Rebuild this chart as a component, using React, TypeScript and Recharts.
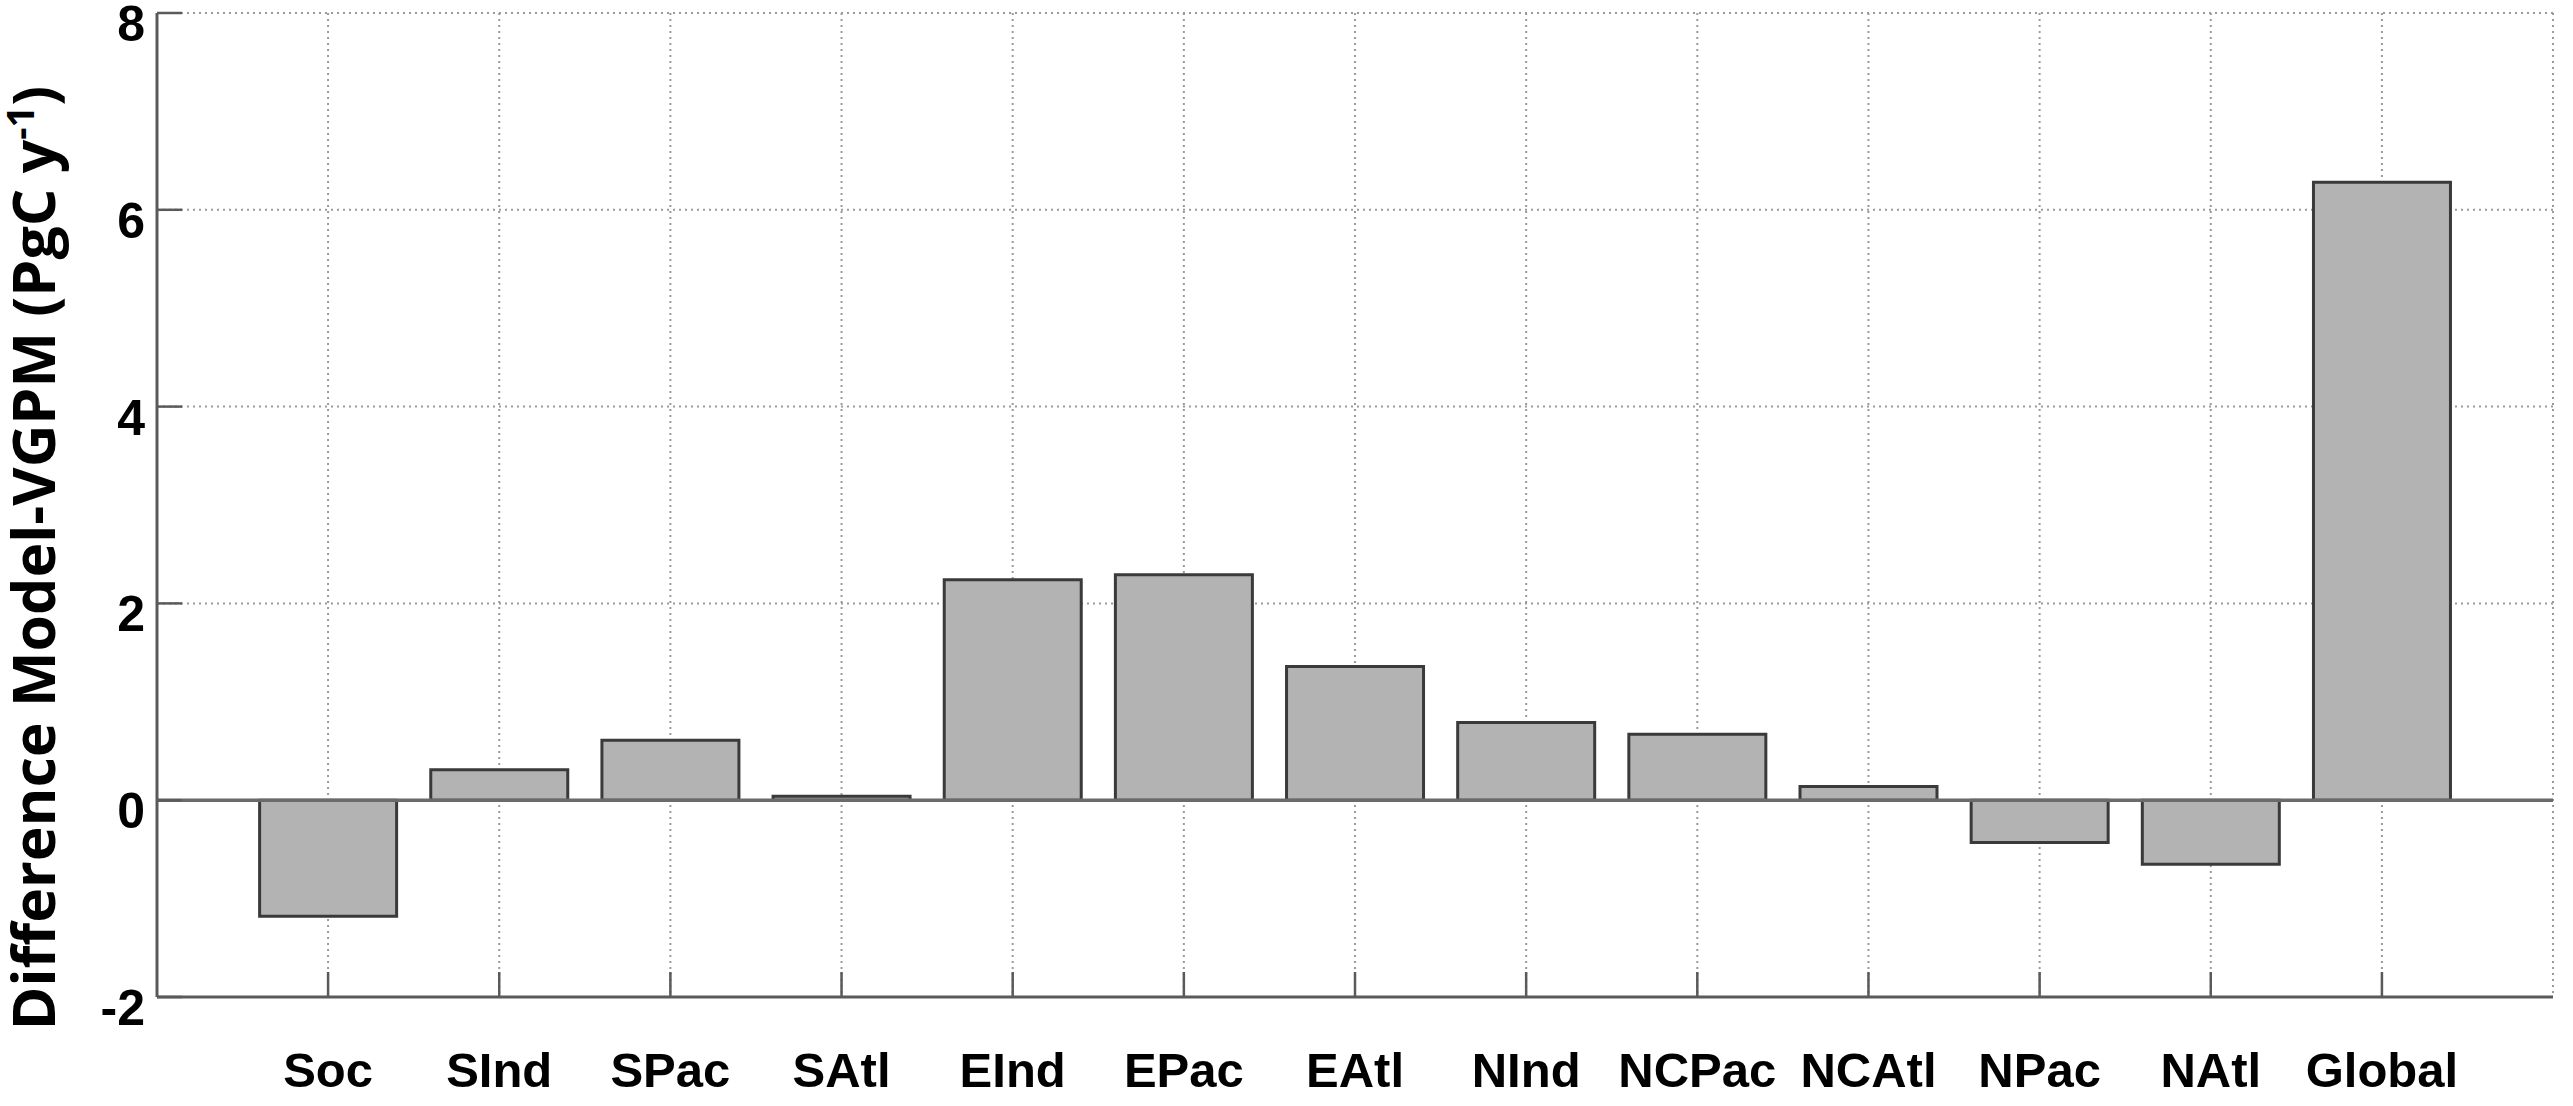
import React from 'react'
import { BarChart, Bar, XAxis, YAxis, CartesianGrid, ReferenceLine } from 'recharts'

// regions and model-minus-VGPM differences (PgC/yr)
const regions = ['Soc', 'SInd', 'SPac', 'SAtl', 'EInd', 'EPac', 'EAtl', 'NInd', 'NCPac', 'NCAtl', 'NPac', 'NAtl', 'Global']
const diffs = [-1.18, 0.31, 0.61, 0.04, 2.24, 2.29, 1.36, 0.79, 0.67, 0.14, -0.43, -0.65, 6.28]
const yTicks = [-2, 0, 2, 4, 6, 8]

const data = regions.map((region, i) => ({ region, diff: diffs[i] }))

const AXIS = '#5a5a5a'
const TICK_LEN = 25
const LABEL_FONT = '"Liberation Sans", Arial, sans-serif'

const BottomTick = (props: any) => {
  const { x, y, payload } = props
  return (
    <g>
      <line x1={x} y1={y} x2={x} y2={y - TICK_LEN} stroke={AXIS} strokeWidth={2.5} />
      <text x={x} y={y + 90} textAnchor="middle" fontFamily={LABEL_FONT} fontWeight="bold" fontSize={49} fill="#000">
        {payload.value}
      </text>
    </g>
  )
}

const TopTick = (props: any) => {
  const { x, y } = props
  return <line x1={x} y1={y} x2={x} y2={y + TICK_LEN} stroke={AXIS} strokeWidth={2.5} />
}

const LeftTick = (props: any) => {
  const { x, y, payload } = props
  return (
    <g>
      <line x1={x + 12} y1={y} x2={x + 12 + TICK_LEN} y2={y} stroke={AXIS} strokeWidth={2.5} />
      <text x={x} y={y + 28} textAnchor="end" fontFamily={LABEL_FONT} fontWeight="bold" fontSize={50} fill="#000">
        {payload.value}
      </text>
    </g>
  )
}

const RightTick = (props: any) => {
  const { x, y } = props
  return <line x1={x} y1={y} x2={x - TICK_LEN} y2={y} stroke={AXIS} strokeWidth={2.5} />
}

export default function App() {
  return (
    <div style={{ position: 'absolute', left: 0, top: 0, width: 2573, height: 1106, background: '#fff' }}>
      <BarChart
        width={2573}
        height={1106}
        data={data}
        margin={{ top: 13, right: 20, left: 0, bottom: 0 }}
        barCategoryGap="10%"
      >
        <CartesianGrid stroke="#9a9a9a" strokeWidth={2} strokeDasharray="2 4" />
        <XAxis
          dataKey="region"
          interval={0}
          height={109}
          padding={{ left: 85.5, right: 85.5 }}
          tickSize={0}
          tickMargin={0}
          tick={(p: any) => <BottomTick {...p} />}
          axisLine={{ stroke: AXIS, strokeWidth: 3 }}
        />
        <XAxis
          xAxisId="top"
          orientation="top"
          dataKey="region"
          interval={0}
          height={0}
          padding={{ left: 85.5, right: 85.5 }}
          tickSize={0}
          tickMargin={0}
          tick={(p: any) => <TopTick {...p} />}
          axisLine={{ stroke: AXIS, strokeWidth: 3 }}
        />
        <YAxis
          domain={[-2, 8]}
          ticks={yTicks}
          width={157}
          tickSize={0}
          tickMargin={12}
          tick={(p: any) => <LeftTick {...p} />}
          axisLine={{ stroke: AXIS, strokeWidth: 3 }}
        />
        <YAxis
          yAxisId="r"
          orientation="right"
          domain={[-2, 8]}
          ticks={yTicks}
          width={0}
          tickSize={0}
          tickMargin={0}
          tick={(p: any) => <RightTick {...p} />}
          axisLine={{ stroke: AXIS, strokeWidth: 3 }}
        />
        <Bar dataKey="diff" fill="#b3b3b3" stroke="#3a3a3a" strokeWidth={3} isAnimationActive={false} />
        <ReferenceLine y={0} stroke="#6a6a6a" strokeWidth={3.5} />
      </BarChart>
      {/* y-axis title, drawn over the chart */}
      <svg width={120} height={1106} style={{ position: 'absolute', left: 0, top: 0, pointerEvents: 'none' }}>
        <text
          x={55}
          y={558}
          transform="rotate(-90, 55, 558)"
          textAnchor="middle"
          fontFamily='"Open Sans", sans-serif'
          fontWeight="bold"
          fontSize={59}
          fill="#000"
        >
          Difference Model-VGPM (PgC y<tspan dy={-21} fontSize={38}>-1</tspan><tspan dy={21}>)</tspan>
        </text>
      </svg>
    </div>
  )
}
